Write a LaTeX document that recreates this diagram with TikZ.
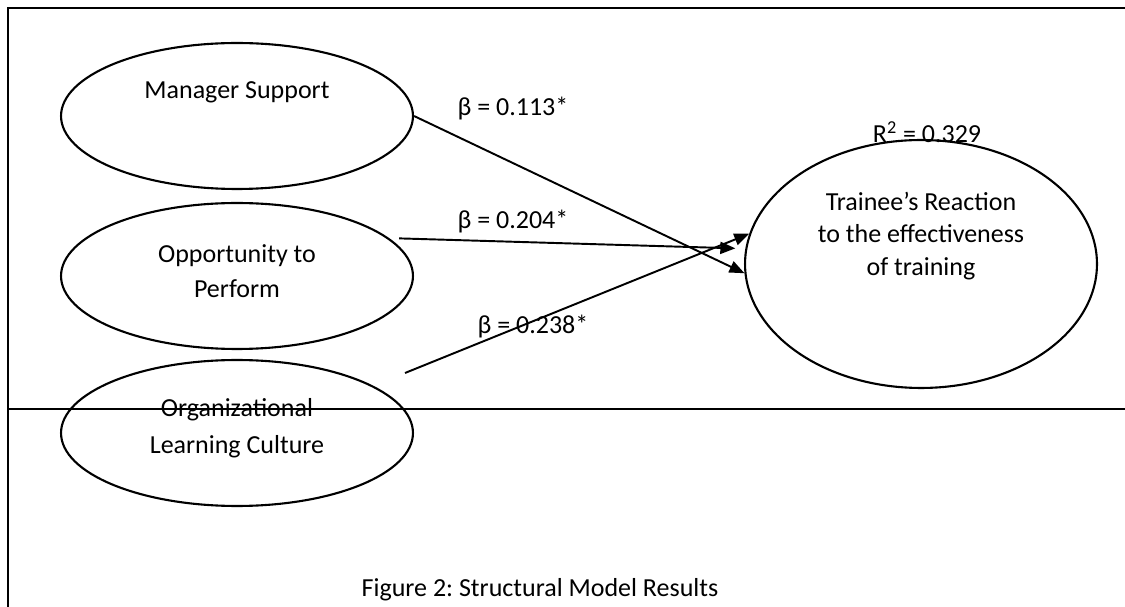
\documentclass[tikz,border=0pt]{standalone}
\usepackage{fontspec}
\setmainfont{Carlito}
\frenchspacing
\usetikzlibrary{arrows.meta,shapes.geometric}

\tikzset{
	construct/.style={draw, ellipse, line width=1.2pt, inner sep=0pt, minimum width=7.04cm, minimum height=2.92cm},
	path/.style={line width=1.1pt, -{Triangle[length=0.3cm, width=0.24cm]}},
	txt/.style={align=center, inner sep=0pt}
}

\begin{document}
\begin{tikzpicture}[x=0.02cm, y=-0.02cm, font=\fontsize{14.8}{19}\selectfont]
	%%%%% START %%%%%
	
	\useasboundingbox (0, 0) rectangle (1125, 607);
	
	\draw[line width=0.6pt] (1125, 8) -- (8, 8) -- (8, 607);
	\draw[line width=0.75pt] (8, 409) -- (1125, 409);
	
	\node[construct] (ms) at (237, 116) {};
	\node[txt] (ms-t) at (237, 92) {Manager Support};
	
	\node[construct] (op) at (237, 276) {};
	\node[txt] (op-t) at (237, 271) {Opportunity to\\[1pt] Perform};
	
	\node[construct] (olc) at (237, 433) {};
	\node[txt] (olc-t) at (237, 428) {Organizational\\[2pt] Learning Culture};
	
	\node[construct, minimum height=4.96cm] (tr) at (921, 264) {};
	\node[txt, font=\fontsize{14.8}{18.5}\selectfont] (tr-t) at (921, 236) {Trainee’s Reaction\\ to the effectiveness\\ of training};
	\node[txt] (r2) at (927, 132) {R\textsuperscript{2} = 0.329};
	
	\coordinate (olc-out) at (405, 373);
	
	\draw[path] (ms.east) -- (tr.183);
	\draw[path, shorten >=0.2cm, shorten <=0.2cm] (op.14) -- (tr.175);
	\draw[path] (olc-out) -- (tr.170);
	
	\node[txt] (b1) at (513, 109) {β = 0.113*};
	\node[txt] (b2) at (513, 222) {β = 0.204*};
	\node[txt] (b3) at (533, 327) {β = 0.238*};
	
	\node[txt] (cap) at (540, 590) {Figure 2: Structural Model Results};
	
	%%%%% END %%%%%
\end{tikzpicture}
\end{document}
